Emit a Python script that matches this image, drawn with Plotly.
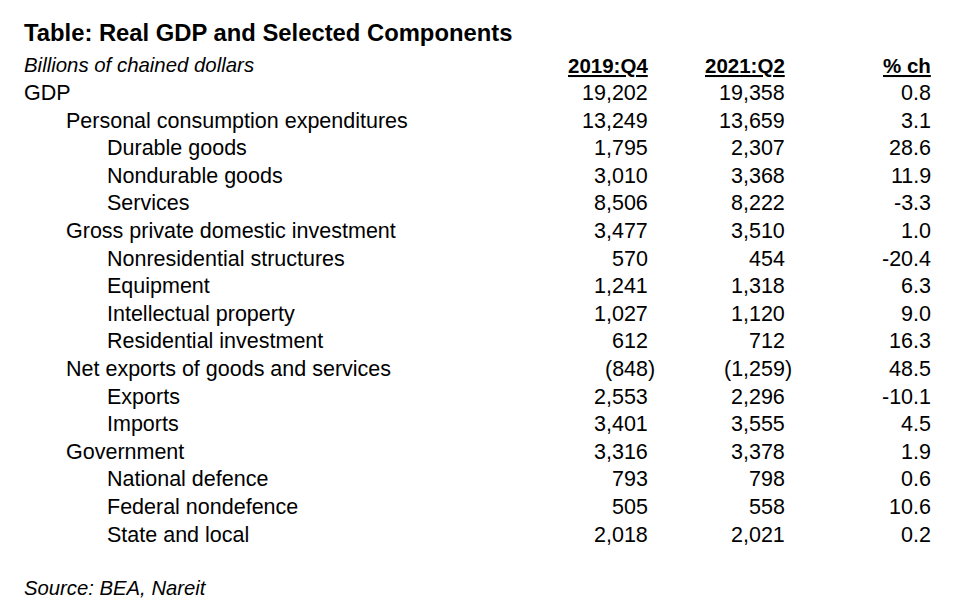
import plotly.graph_objects as go

title = "Table: Real GDP and Selected Components"
subtitle = "Billions of chained dollars"
source = "Source: BEA, Nareit"
headers = ["2019:Q4", "2021:Q2", "% ch"]

labels = [
    "GDP",
    "Personal consumption expenditures",
    "Durable goods",
    "Nondurable goods",
    "Services",
    "Gross private domestic investment",
    "Nonresidential structures",
    "Equipment",
    "Intellectual property",
    "Residential investment",
    "Net exports of goods and services",
    "Exports",
    "Imports",
    "Government",
    "National defence",
    "Federal nondefence",
    "State and local",
]
levels = [0, 1, 2, 2, 2, 1, 2, 2, 2, 2, 1, 2, 2, 1, 2, 2, 2]
v2019 = [19202, 13249, 1795, 3010, 8506, 3477, 570, 1241, 1027, 612,
         -848, 2553, 3401, 3316, 793, 505, 2018]
v2021 = [19358, 13659, 2307, 3368, 8222, 3510, 454, 1318, 1120, 712,
         -1259, 2296, 3555, 3378, 798, 558, 2021]
pct = [0.8, 3.1, 28.6, 11.9, -3.3, 1.0, -20.4, 6.3, 9.0, 16.3,
       48.5, -10.1, 4.5, 1.9, 0.6, 10.6, 0.2]

FONT = "Liberation Sans, Arial, sans-serif"
BODY = 21.5
W, H = 980, 604

fig = go.Figure()
ann = []

def add(x, y, text, anchor="left", size=BODY):
    ann.append(dict(x=x, y=y, xref="x", yref="y", text=text, showarrow=False,
                    xanchor=anchor, yanchor="middle", borderpad=0, borderwidth=0,
                    font=dict(family=FONT, size=size, color="black")))

def fmt(v):
    s = f"{abs(v):,}"
    return f"({s})" if v < 0 else s

add(24, 32, f"<b>{title}</b>", size=23.8)
add(24, 65, f"<i>{subtitle}</i>", size=20.4)
hx = [648, 785, 931]
for x, h in zip(hx, headers):
    add(x, 65, f"<b><u>{h}</u></b>", anchor="right", size=20.5)

indent = [24, 66, 107]
y0, dy = 93, 27.6
for i, lab in enumerate(labels):
    y = y0 + i * dy
    add(indent[levels[i]], y, lab)
    for x, v in ((648, v2019[i]), (785, v2021[i])):
        add(x + (7 if v < 0 else 0), y, fmt(v), anchor="right")
    add(931, y, f"{pct[i]:.1f}", anchor="right")

add(24, 588, f"<i>{source}</i>", size=20.3)

fig.add_trace(go.Scatter(x=[0, W], y=[0, H], mode="markers",
                         marker=dict(opacity=0), hoverinfo="skip", showlegend=False))
fig.update_layout(
    width=W, height=H, margin=dict(l=0, r=0, t=0, b=0),
    paper_bgcolor="white", plot_bgcolor="white",
    xaxis=dict(range=[0, W], visible=False, fixedrange=True),
    yaxis=dict(range=[H, 0], visible=False, fixedrange=True),
    annotations=ann, showlegend=False,
)
fig.write_html("out.html", config={"displayModeBar": False},
               post_script="document.body.style.margin='0';document.body.style.overflow='hidden';")
